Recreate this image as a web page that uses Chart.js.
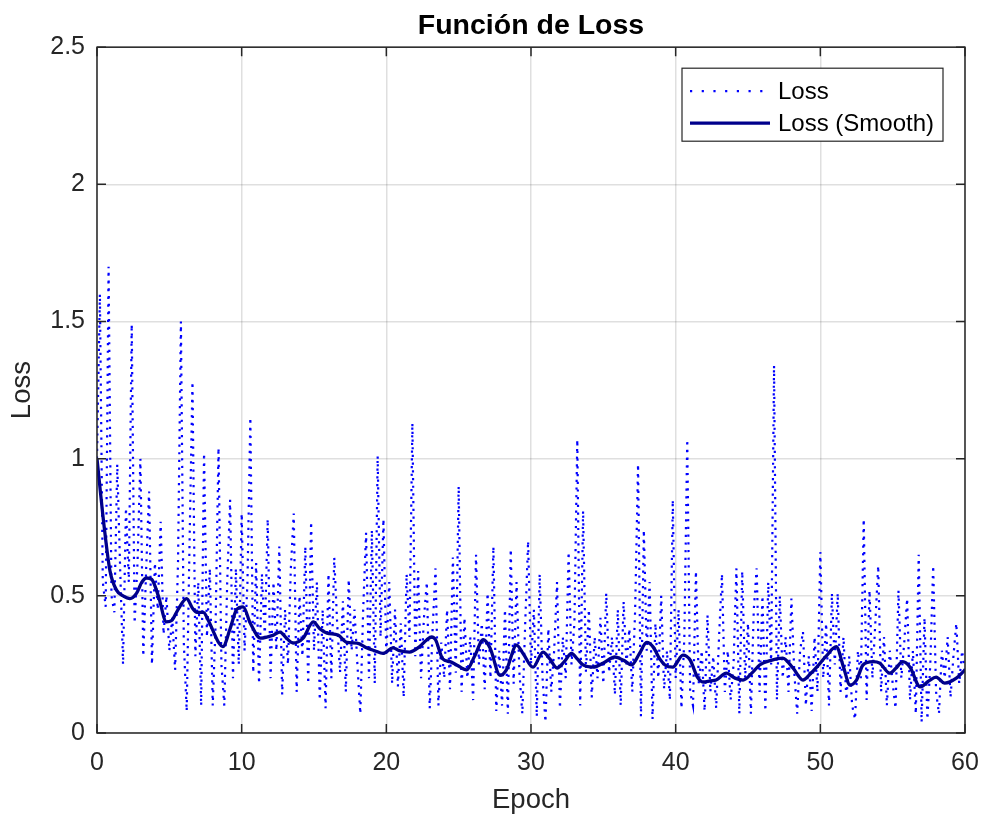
<!DOCTYPE html>
<html>
<head>
<meta charset="utf-8">
<title>Función de Loss</title>
<script src="https://cdn.jsdelivr.net/npm/chart.js@4.4.1/dist/chart.umd.min.js"></script>
<style>
  html, body { margin: 0; padding: 0; background: #fff; }
  canvas { display: block; }
</style>
</head>
<body>
<canvas id="lossChart" width="983" height="818"></canvas>
<script>
// iteraciones por epoch del loss crudo
const stepsPerEpoch = 5;

// loss crudo, leido por tramos de 10 epochs
const lossEp0 = [1.00,1.60,0.55,0.46,1.70, 0.50,0.44,0.98,0.60,0.25, 0.82,0.55,1.49,0.40,0.62, 1.00,0.28,0.60,0.88,0.25,
  0.62,0.45,0.77,0.36,0.50, 0.30,0.42,0.23,0.62,1.50, 0.33,0.08,0.70,1.28,0.28, 0.55,0.10,1.02,0.35,0.60,
  0.10,0.40,1.04,0.25,0.10, 0.55,0.85,0.20,0.60,0.25];
const lossEp10 = [0.80,0.30,0.55,1.15,0.22, 0.62,0.18,0.58,0.35,0.78, 0.20,0.55,0.30,0.68,0.14, 0.45,0.25,0.60,0.80,0.15,
  0.50,0.28,0.68,0.18,0.77, 0.30,0.55,0.12,0.45,0.09, 0.58,0.20,0.64,0.40,0.22, 0.48,0.15,0.56,0.30,0.45,
  0.25,0.07,0.45,0.73,0.20, 0.74,0.18,1.01,0.35,0.78];
const lossEp20 = [0.28,0.55,0.18,0.45,0.17, 0.40,0.13,0.58,0.35,1.13, 0.28,0.59,0.20,0.42,0.55, 0.09,0.38,0.60,0.10,0.33,
  0.20,0.45,0.16,0.64,0.22, 0.90,0.15,0.42,0.20,0.35, 0.12,0.65,0.25,0.40,0.16, 0.51,0.20,0.68,0.08,0.30,
  0.10,0.45,0.07,0.67,0.18, 0.55,0.22,0.07,0.40,0.70];
const lossEp30 = [0.25,0.45,0.06,0.58,0.20, 0.04,0.38,0.15,0.30,0.55, 0.09,0.35,0.20,0.66,0.25, 0.40,1.07,0.10,0.81,0.22,
  0.45,0.13,0.35,0.20,0.42, 0.18,0.51,0.22,0.35,0.14, 0.45,0.10,0.48,0.25,0.38, 0.15,0.45,0.98,0.06,0.74,
  0.30,0.55,0.05,0.40,0.20, 0.50,0.16,0.30,0.12,0.85];
const lossEp40 = [0.20,0.45,0.09,0.35,1.07, 0.15,0.10,0.59,0.18,0.30, 0.08,0.43,0.15,0.28,0.09, 0.35,0.58,0.15,0.30,0.12,
  0.25,0.60,0.07,0.59,0.20, 0.40,0.07,0.45,0.60,0.15, 0.50,0.08,0.55,0.25,1.34, 0.12,0.50,0.20,0.35,0.15,
  0.49,0.22,0.07,0.30,0.37, 0.10,0.28,0.08,0.35,0.15];
const lossEp50 = [0.66,0.20,0.40,0.10,0.51, 0.25,0.51,0.15,0.35,0.12, 0.28,0.10,0.05,0.30,0.20, 0.78,0.12,0.52,0.20,0.40,
  0.61,0.15,0.35,0.10,0.30, 0.18,0.09,0.52,0.20,0.33, 0.49,0.12,0.30,0.07,0.65, 0.04,0.42,0.05,0.25,0.61,
  0.15,0.07,0.30,0.20,0.35, 0.13,0.28,0.40,0.18,0.30, 0.22];

// curva suavizada
const smoothEpoch = [0,0.5,0.9,1.36,1.8,2.28,2.74,3.1,3.43,3.78,4.24,4.8,5.16,5.6,6.2,6.6,6.9,7.35,7.7,8.0,8.4,8.7,9.2,9.65,
  10.1,10.6,11.3,12.2,12.65,13.1,13.55,14.25,14.95,15.4,15.9,16.66,17.28,17.97,18.66,19.2,19.77,
  20.46,20.9,21.6,22.3,22.8,23.13,23.4,23.9,24.4,24.86,25.55,26.1,26.7,27.17,27.86,28.3,29.0,29.45,
  30.14,30.83,31.3,31.8,32.3,32.8,33.2,33.6,34.3,35.0,35.8,36.4,36.96,37.5,38.0,38.45,38.9,39.26,39.8,
  40.5,41.0,41.5,41.9,42.4,42.8,43.5,44.1,44.66,45.3,45.8,46.6,47.4,48.1,48.8,49.3,49.75,
  50.4,51.1,51.6,52.05,52.5,52.95,53.64,54.1,54.8,55.2,55.7,56.2,56.9,57.5,58.0,58.6,59.4,60.0];
const smoothLoss = [1.00,0.75,0.59,0.52,0.50,0.49,0.51,0.55,0.565,0.56,0.50,0.405,0.41,0.45,0.49,0.455,0.44,0.44,0.41,0.375,0.33,0.315,0.38,0.45,
  0.46,0.40,0.346,0.357,0.368,0.345,0.328,0.346,0.405,0.38,0.364,0.357,0.33,0.328,0.31,0.30,0.29,
  0.31,0.30,0.295,0.315,0.34,0.35,0.34,0.27,0.26,0.248,0.23,0.28,0.34,0.31,0.21,0.23,0.32,0.29,
  0.24,0.295,0.27,0.237,0.26,0.29,0.27,0.248,0.24,0.255,0.277,0.265,0.248,0.29,0.33,0.313,0.27,0.248,0.24,
  0.284,0.266,0.204,0.186,0.19,0.193,0.218,0.20,0.193,0.22,0.248,0.265,0.273,0.237,0.193,0.215,0.24,
  0.28,0.315,0.24,0.175,0.193,0.248,0.26,0.255,0.218,0.235,0.26,0.24,0.168,0.19,0.204,0.182,0.20,0.23];

const xTicks = [0, 10, 20, 30, 40, 50, 60];
const yTicks = [0, 0.5, 1, 1.5, 2, 2.5];

const lossRaw = [].concat(lossEp0, lossEp10, lossEp20, lossEp30, lossEp40, lossEp50);
const rawPoints = lossRaw.map((v, i) => ({ x: i / stepsPerEpoch, y: v }));
const smoothPoints = smoothEpoch.map((e, i) => ({ x: e, y: smoothLoss[i] }));

const axisColor = '#262626';
const fontFamily = '"Liberation Sans", Arial, Helvetica, sans-serif';

// marco completo con marcas hacia dentro, estilo MATLAB
const matlabBox = {
  id: 'matlabBox',
  afterDatasetsDraw(chart) {
    const { ctx, chartArea: a, scales } = chart;
    const tick = 9;
    ctx.save();
    ctx.strokeStyle = axisColor;
    ctx.lineWidth = 1.5;
    ctx.setLineDash([]);
    ctx.strokeRect(a.left, a.top, a.right - a.left, a.bottom - a.top);
    ctx.beginPath();
    xTicks.forEach(v => {
      const px = scales.x.getPixelForValue(v);
      ctx.moveTo(px, a.bottom); ctx.lineTo(px, a.bottom - tick);
      ctx.moveTo(px, a.top); ctx.lineTo(px, a.top + tick);
    });
    yTicks.forEach(v => {
      const py = scales.y.getPixelForValue(v);
      ctx.moveTo(a.left, py); ctx.lineTo(a.left + tick, py);
      ctx.moveTo(a.right, py); ctx.lineTo(a.right - tick, py);
    });
    ctx.stroke();
    ctx.restore();
  }
};

// leyenda con recuadro dentro del area
const boxLegend = {
  id: 'boxLegend',
  afterDraw(chart) {
    const { ctx, chartArea: a } = chart;
    const w = 261, h = 73;
    const left = a.right - 22 - w, top = a.top + 21;
    ctx.save();
    ctx.fillStyle = '#fff';
    ctx.fillRect(left, top, w, h);
    ctx.strokeStyle = axisColor;
    ctx.lineWidth = 1.2;
    ctx.strokeRect(left, top, w, h);
    ctx.font = '24px ' + fontFamily;
    ctx.textBaseline = 'middle';
    chart.data.datasets.forEach((ds, i) => {
      const y = top + 23 + i * 32;
      ctx.strokeStyle = ds.borderColor;
      ctx.lineWidth = ds.borderWidth;
      ctx.setLineDash(ds.legendDash || []);
      ctx.beginPath();
      ctx.moveTo(left + 8, y);
      ctx.lineTo(left + 88, y);
      ctx.stroke();
      ctx.fillStyle = '#000';
      ctx.fillText(ds.label, left + 96, y + 1);
    });
    ctx.restore();
  }
};

new Chart(document.getElementById('lossChart'), {
  type: 'line',
  data: {
    datasets: [
      {
        label: 'Loss',
        data: rawPoints,
        borderColor: '#0000ff',
        borderWidth: 2.2,
        borderDash: [2.2, 5.5],
        legendDash: [2.2, 9.5],
        pointRadius: 0,
        tension: 0,
        order: 2
      },
      {
        label: 'Loss (Smooth)',
        data: smoothPoints,
        borderColor: '#00008b',
        borderWidth: 3.3,
        pointRadius: 0,
        cubicInterpolationMode: 'monotone',
        order: 1
      }
    ]
  },
  options: {
    responsive: false,
    animation: false,
    layout: { padding: { left: 0, right: 18, top: 0, bottom: 0 } },
    plugins: {
      legend: { display: false },
      tooltip: { enabled: false },
      title: {
        display: true,
        fullSize: false,
        text: 'Función de Loss',
        color: '#000',
        font: { family: fontFamily, size: 28.5, weight: 'bold' },
        padding: { top: 9, bottom: 4 }
      }
    },
    scales: {
      x: {
        type: 'linear',
        min: 0, max: 60,
        afterBuildTicks: s => { s.ticks = xTicks.map(v => ({ value: v })); },
        afterFit: s => { s.height = 85; s.paddingLeft = 0; s.paddingRight = 0; },
        grid: { color: 'rgba(38,38,38,0.15)', lineWidth: 1.5, drawTicks: false },
        border: { display: false },
        ticks: { color: axisColor, padding: 15, maxRotation: 0, font: { family: fontFamily, size: 25 } },
        title: { display: true, text: 'Epoch', color: axisColor, padding: { bottom: 1.5 }, font: { family: fontFamily, size: 27.5 } }
      },
      y: {
        min: 0, max: 2.5,
        afterBuildTicks: s => { s.ticks = yTicks.map(v => ({ value: v })); },
        afterFit: s => { s.width = 97; },
        grid: { color: 'rgba(38,38,38,0.15)', lineWidth: 1.5, drawTicks: false },
        border: { display: false },
        ticks: { color: axisColor, padding: 12, font: { family: fontFamily, size: 25 }, callback: v => String(v) },
        title: { display: true, text: 'Loss', color: axisColor, padding: { top: 5.5 }, font: { family: fontFamily, size: 27.5 } }
      }
    }
  },
  plugins: [matlabBox, boxLegend]
});
</script>
</body>
</html>
